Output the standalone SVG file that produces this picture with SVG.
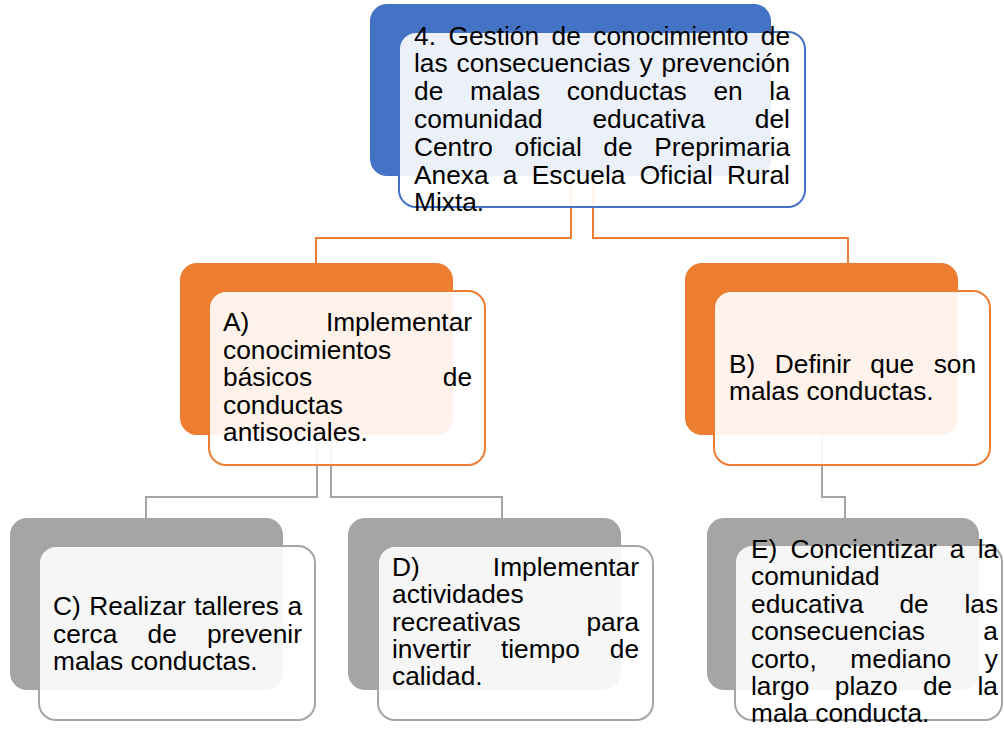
<svg xmlns="http://www.w3.org/2000/svg" width="1004" height="729" viewBox="0 0 1004 729">
<style>
.t{font-family:"Liberation Sans",Arial,sans-serif;font-size:26.3px;fill:#000}
.front{fill:#fff;fill-opacity:0.9;stroke-width:2}
.blue{fill:#4472C4}
.orange{fill:#ED7D31}
.gray{fill:#A5A5A5}
.fb{stroke:#4472C4}
.fo{stroke:#ED7D31}
.fg{stroke:#A5A5A5}
.co{fill:none;stroke:#ED7D31;stroke-width:2}
.cg{fill:none;stroke:#A5A5A5;stroke-width:2}
</style>
<rect width="1004" height="729" fill="#fff"/>
<g id="connectors">
<path class="co" d="M571,176 V238 H316 V263"/>
<path class="co" d="M593,176 V238 H848 V263"/>
<path class="cg" d="M317,435 V497 H146 V518"/>
<path class="cg" d="M331,435 V497 H502 V518"/>
<path class="cg" d="M822,435 V497 H845 V518"/>
</g>
<g id="node-root">
<rect class="blue" x="370" y="4" width="401" height="172" rx="17"/>
<rect class="front fb" x="399" y="32" width="406" height="175" rx="17"/>
<text class="t">
<tspan x="414" y="44.5" style="word-spacing:5.2px">4. Gestión de conocimiento de</tspan>
<tspan x="414" y="72.3" style="word-spacing:1.6px">las consecuencias y prevención</tspan>
<tspan x="414" y="100.1" style="word-spacing:19.4px">de malas conductas en la</tspan>
<tspan x="414" y="127.9" style="word-spacing:42.5px">comunidad educativa del</tspan>
<tspan x="414" y="155.7" style="word-spacing:14.3px">Centro oficial de Preprimaria</tspan>
<tspan x="414" y="183.5" style="word-spacing:7px">Anexa a Escuela Oficial Rural</tspan>
<tspan x="414" y="211.3">Mixta.</tspan>
</text>
</g>
<g id="node-A">
<rect class="orange" x="180" y="263" width="273" height="172" rx="17"/>
<rect class="front fo" x="209" y="291" width="276" height="174" rx="17"/>
<text class="t">
<tspan x="223" y="331" style="word-spacing:69.3px">A) Implementar</tspan>
<tspan x="223" y="358.5">conocimientos</tspan>
<tspan x="223" y="386" style="word-spacing:123.3px">básicos de</tspan>
<tspan x="223" y="413.5">conductas</tspan>
<tspan x="223" y="441">antisociales.</tspan>
</text>
</g>
<g id="node-B">
<rect class="orange" x="685" y="263" width="273" height="172" rx="17"/>
<rect class="front fo" x="714" y="291" width="276" height="174" rx="17"/>
<text class="t">
<tspan x="729" y="373" style="word-spacing:12.2px">B) Definir que son</tspan>
<tspan x="729" y="400">malas conductas.</tspan>
</text>
</g>
<g id="node-C">
<rect class="gray" x="10" y="518" width="273" height="172" rx="17"/>
<rect class="front fg" x="39" y="546" width="276" height="174" rx="17"/>
<text class="t">
<tspan x="53" y="615" style="word-spacing:1.2px">C) Realizar talleres a</tspan>
<tspan x="53" y="642.5" style="word-spacing:22.9px">cerca de prevenir</tspan>
<tspan x="53" y="670">malas conductas.</tspan>
</text>
</g>
<g id="node-D">
<rect class="gray" x="348" y="518" width="273" height="172" rx="17"/>
<rect class="front fg" x="378" y="546" width="275" height="174" rx="17"/>
<text class="t">
<tspan x="392" y="576" style="word-spacing:65.8px">D) Implementar</tspan>
<tspan x="392" y="603.3">actividades</tspan>
<tspan x="392" y="630.6" style="word-spacing:58.5px">recreativas para</tspan>
<tspan x="392" y="657.9" style="word-spacing:22.7px">invertir tiempo de</tspan>
<tspan x="392" y="685.2">calidad.</tspan>
</text>
</g>
<g id="node-E">
<rect class="gray" x="707" y="518" width="272" height="172" rx="17"/>
<rect class="front fg" x="735" y="545" width="267" height="175" rx="17"/>
<text class="t">
<tspan x="751" y="558" style="word-spacing:5.9px">E) Concientizar a la</tspan>
<tspan x="751" y="585.4">comunidad</tspan>
<tspan x="751" y="612.8" style="word-spacing:28.5px">educativa de las</tspan>
<tspan x="751" y="640.2" style="word-spacing:51.1px">consecuencias a</tspan>
<tspan x="751" y="667.6" style="word-spacing:26.3px">corto, mediano y</tspan>
<tspan x="751" y="695" style="word-spacing:18px">largo plazo de la</tspan>
<tspan x="751" y="722.4">mala conducta.</tspan>
</text>
</g>
</svg>
